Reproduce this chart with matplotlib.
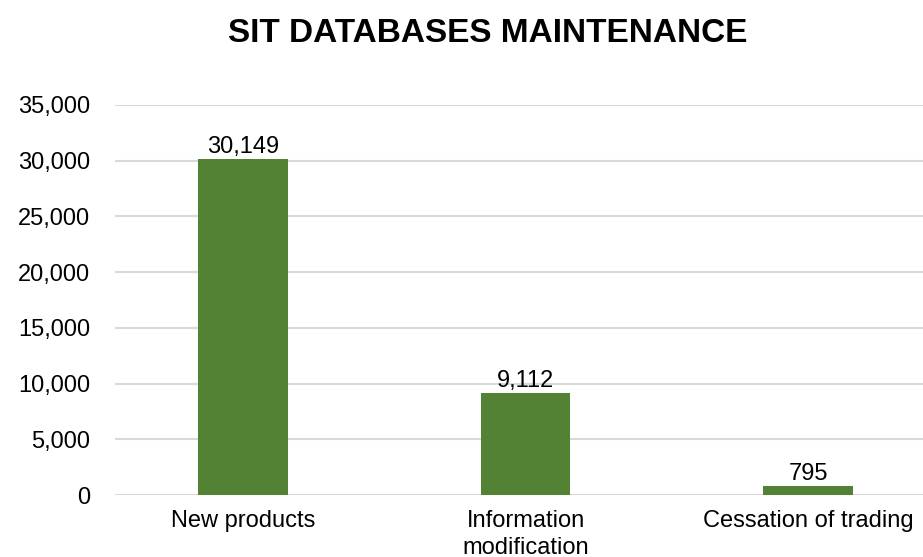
import matplotlib
matplotlib.use("Agg")
import matplotlib.pyplot as plt
from matplotlib.ticker import FuncFormatter

categories = ["New products", "Information\nmodification", "Cessation of trading"]
values = [30149, 9112, 795]
yticks = [0, 5000, 10000, 15000, 20000, 25000, 30000, 35000]

plt.rcParams['font.family'] = ['Liberation Sans', 'DejaVu Sans']

fig = plt.figure(figsize=(9.23, 5.57), dpi=100)
ax = fig.add_axes([115/923, 62/557, 808/923, 390/557])
x = list(range(len(categories)))
bars = ax.bar(x, values, width=0.318, color="#548235", zorder=3)
ax.set_xlim(-0.452, 2.406)
ax.set_ylim(0, 35000)
ax.set_yticks(yticks)
ax.yaxis.set_major_formatter(FuncFormatter(lambda v, p: f"{int(v):,}"))
ax.grid(axis='y', color="#d9d9d9", linewidth=1.5, zorder=0)
for s in ax.spines.values():
    s.set_visible(False)
ax.tick_params(axis='both', length=0, labelsize=17, colors="black")
ax.tick_params(axis='y', pad=18)
ax.tick_params(axis='x', pad=11)
ax.set_xticks(x)
ax.set_xticklabels(categories, linespacing=1.25)
for b, v in zip(bars, values):
    ax.annotate(f"{v:,}", (b.get_x() + b.get_width()/2, v), xytext=(0, 1),
                textcoords="offset points", ha="center", va="bottom", fontsize=17)
fig.text(488/923, 1 - 34/557, "SIT DATABASES MAINTENANCE", ha="center", va="center",
         fontsize=24, fontweight="bold")
fig.savefig("out.png", dpi=100)
